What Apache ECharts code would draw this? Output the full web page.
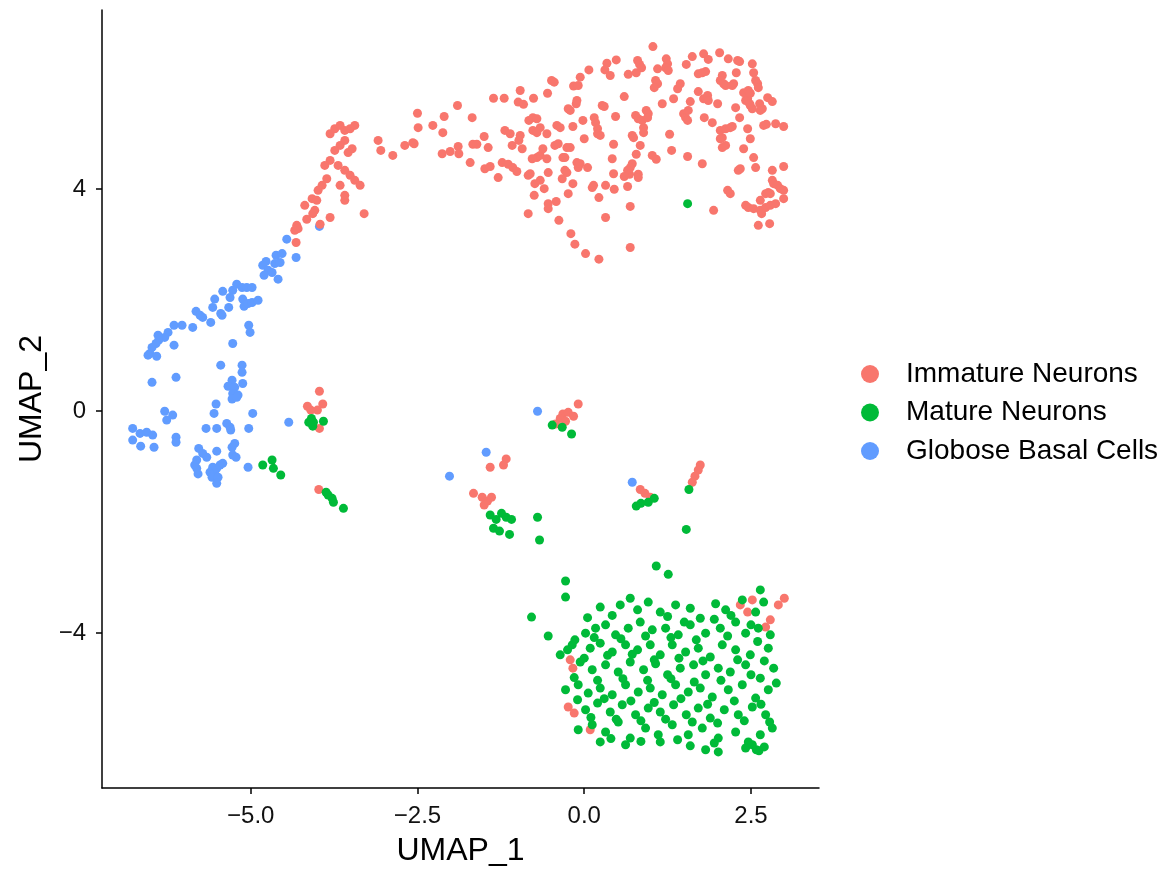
<!DOCTYPE html>
<html>
<head>
<meta charset="utf-8">
<script src="https://cdn.jsdelivr.net/npm/echarts@6/dist/echarts.min.js"></script>
<style>
  html, body { margin: 0; padding: 0; background: #fff; }
  #chart { width: 1175px; height: 871px; }
</style>
</head>
<body>
<div id="chart"></div>
<script>
// UMAP coordinates, one array per cell type
const immatureNeurons = [
  [1.03,6.57],[0.48,6.33],[0.34,6.27],[0.31,6.15],[0.39,6.05],[0.07,6.15],[-0.06,6.02],[-0.16,5.86],[-0.09,5.87],[-0.49,5.96],
  [-0.45,5.93],[-0.96,5.78],[-0.55,5.73],[-0.76,5.64],[-0.99,5.57],[-0.91,5.53],[-1.36,5.64],[-1.20,5.64],[-1.90,5.51],[-2.50,5.37],
  [-2.10,5.31],[-1.68,5.29],[-2.49,5.11],[-2.27,5.15],[-2.12,5.02],[-2.57,4.84],[-2.55,4.82],[-2.13,4.64],[-2.01,4.68],[-1.89,4.77],
  [-1.88,4.64],[-1.71,4.48],[-1.67,4.81],[-1.61,4.81],[-1.50,4.95],[-1.44,4.75],[-1.49,4.37],[-1.41,4.41],[-1.29,4.21],[-1.19,5.06],
  [-1.11,5.00],[-1.23,4.48],[-1.14,4.45],[-1.07,4.39],[-1.01,4.32],[-1.08,4.79],[-0.96,4.97],[-0.98,4.88],[-0.93,4.73],[-0.83,5.24],
  [-0.77,5.29],[-0.71,5.27],[-0.66,5.11],[-0.77,5.06],[-0.71,5.02],[-0.56,5.00],[-0.84,4.25],[-0.81,4.28],[-0.71,4.57],[-0.66,4.61],
  [-0.62,4.73],[-0.56,4.55],[-0.78,4.55],[-0.74,4.10],[-0.66,4.16],[-0.60,4.01],[-0.75,3.89],[-0.84,3.56],[-0.54,4.30],[-0.54,3.74],
  [-0.54,3.65],[-0.42,3.78],[-0.44,4.79],[-0.39,4.82],[-0.41,5.15],[-0.36,5.11],[-0.26,4.75],[-0.21,4.75],[-0.32,4.57],[-0.29,4.57],
  [-0.29,4.34],[-0.26,4.30],[-0.33,4.19],[-0.17,4.10],[-0.24,3.92],[-0.38,3.44],[-0.20,3.20],[-0.14,3.01],[0.02,2.84],[0.22,2.74],
  [-0.24,5.45],[-0.21,5.42],[-0.12,5.54],[-0.11,5.60],[-0.17,5.13],[-0.02,5.24],[0.00,4.91],[-0.11,4.48],[-0.09,4.39],[-0.06,4.46],
  [0.05,4.39],[0.15,5.29],[0.17,5.20],[0.20,5.09],[0.20,5.00],[0.24,4.97],[0.27,5.51],[0.30,5.49],[0.14,4.07],[0.12,4.03],
  [0.22,3.85],[0.32,4.07],[0.32,3.49],[0.47,5.31],[0.44,4.81],[0.42,4.55],[0.44,4.28],[0.45,4.00],[0.60,5.67],[0.66,6.07],
  [0.78,6.10],[0.80,6.32],[0.83,6.25],[0.86,6.19],[0.77,5.33],[0.81,5.27],[0.87,5.24],[0.72,4.97],[0.74,4.93],[0.84,4.79],
  [0.78,4.63],[0.72,4.46],[0.69,4.39],[0.65,4.34],[0.68,4.27],[0.81,4.27],[0.81,4.21],[0.60,4.23],[0.65,4.05],[0.69,3.69],
  [0.69,2.95],[0.89,5.11],[0.89,5.02],[0.93,5.42],[0.96,5.36],[0.95,5.29],[1.02,4.61],[1.08,4.54],[1.07,5.96],[1.10,5.90],
  [1.05,5.83],[1.10,6.17],[1.23,6.35],[1.25,6.26],[1.22,6.19],[1.26,6.14],[1.17,5.54],[1.28,4.99],[1.31,4.70],[1.34,5.63],
  [1.40,5.81],[1.44,5.90],[1.53,6.25],[1.62,6.39],[1.49,5.36],[1.52,5.29],[1.55,5.24],[1.56,5.42],[1.59,5.58],[1.55,4.59],
  [1.71,6.08],[1.77,6.10],[1.82,6.12],[1.79,6.44],[1.86,6.34],[1.71,5.76],[1.80,5.29],[1.79,5.63],[1.85,5.69],[1.86,5.60],
  [1.77,4.46],[1.94,3.62],[1.92,5.20],[2.00,5.54],[2.03,6.46],[2.07,6.05],[2.04,5.96],[2.09,5.90],[2.12,5.87],[2.16,6.35],
  [2.24,5.90],[2.22,5.87],[2.28,6.10],[2.27,5.47],[2.30,6.32],[2.33,6.30],[2.33,5.29],[2.04,5.06],[2.12,5.09],[2.19,5.11],
  [2.22,5.13],[2.07,4.93],[2.04,4.91],[2.07,4.75],[2.12,4.79],[2.42,5.60],[2.45,5.63],[2.39,5.74],[2.46,5.78],[2.49,5.73],
  [2.52,6.26],[2.54,6.10],[2.57,5.96],[2.60,5.90],[2.61,5.83],[2.49,5.51],[2.52,5.45],[2.48,5.54],[2.63,5.54],[2.67,5.45],
  [2.64,5.42],[2.45,5.09],[2.49,4.91],[2.39,4.73],[2.54,4.57],[2.57,4.39],[2.34,4.37],[2.31,4.34],[2.75,5.65],[2.82,5.58],
  [2.69,5.15],[2.73,5.17],[2.87,5.18],[2.99,5.13],[2.99,4.41],[2.82,4.34],[2.82,4.16],[2.84,4.10],[2.90,4.07],[2.94,4.01],
  [2.99,3.98],[2.76,3.94],[2.72,3.92],[2.79,3.92],[2.99,3.83],[2.64,3.80],[2.15,3.98],[2.19,3.92],[2.42,3.71],[2.46,3.67],
  [2.54,3.65],[2.64,3.62],[2.72,3.67],[2.79,3.71],[2.87,3.74],[2.66,3.56],[2.61,3.35],[2.78,3.38],
  [-3.81,5.00],[-3.74,5.09],[-3.66,5.15],[-3.59,5.06],[-3.51,5.09],[-3.44,5.15],[-3.59,4.88],[-3.66,4.79],[-3.74,4.70],[-3.54,4.66],
  [-3.48,4.73],[-3.81,4.52],[-3.89,4.43],[-3.69,4.43],[-3.59,4.34],[-3.51,4.25],[-3.44,4.16],[-3.36,4.07],[-3.86,4.19],[-3.93,4.07],
  [-3.66,4.07],[-3.99,3.98],[-4.08,3.83],[-4.19,3.71],[-4.04,3.62],[-3.59,3.89],[-3.09,4.88],[-3.05,4.70],[-2.87,4.61],[-2.69,4.79],
  [-4.01,3.80],[-3.59,3.80],[-4.07,3.56],[-4.16,3.46],[-3.81,3.49],[-3.30,3.56],[-4.31,3.35],[-4.29,3.29],[-4.34,3.26],[-3.96,3.37],
  [-4.32,3.04],
  [-3.97,0.36],[-4.15,0.09],[-3.92,0.13],[-4.00,0.02],[-4.10,0.02],[-3.97,-0.31],[-3.98,-1.41],
  [-0.32,-0.05],[-0.24,-0.02],[-0.16,-0.09],[-0.36,-0.13],[-0.09,0.13],[-0.28,-0.18],[-0.43,-0.23],
  [-1.17,-0.86],[-1.21,-0.97],[-1.41,-1.01],[-1.66,-1.48],[-1.53,-1.55],[-1.45,-1.62],[-1.50,-1.69],[-1.39,-1.55],
  [0.84,-1.41],[0.91,-1.48],[0.99,-1.55],
  [1.74,-0.97],[1.71,-1.06],[1.66,-1.17],[1.62,-1.28],
  [-0.21,-4.48],[-0.17,-4.63],[-0.24,-5.33],[-0.15,-5.44],[0.09,-5.74],[2.34,-3.49],[2.45,-3.62],[2.79,-3.76],[2.91,-3.49],[3.00,-3.37],
  [2.72,-3.89],[2.52,-3.40]
];

const matureNeurons = [
  [1.55,3.74],
  [-4.09,-0.13],[-4.06,-0.20],[-3.91,-0.18],[-4.13,-0.20],[-4.07,-0.27],
  [-4.82,-0.97],[-4.68,-0.88],[-4.66,-1.03],[-4.55,-1.15],
  [-3.87,-1.46],[-3.84,-1.51],[-3.78,-1.57],[-3.76,-1.64],[-3.61,-1.75],
  [-0.48,-0.25],[-0.33,-0.29],[-0.19,-0.41],
  [-1.41,-1.87],[-1.32,-1.95],[-1.24,-1.84],[-1.17,-1.91],[-1.36,-2.11],[-1.27,-2.16],[-1.12,-2.22],[-1.09,-1.95],[-0.70,-1.91],[-0.67,-2.32],
  [0.78,-1.71],[0.85,-1.66],[0.96,-1.64],[1.05,-1.57],
  [1.57,-1.41],[1.53,-2.13],[1.08,-2.79],[1.26,-2.94],[-0.28,-3.06],[-0.28,-3.35],[-0.79,-3.71],[-0.54,-4.05],
  [0.24,-3.53],[0.54,-3.49],[0.69,-3.37],[0.96,-3.44],[1.14,-3.62],[1.37,-3.49],[1.59,-3.55],[1.74,-3.73],[1.97,-3.47],[2.12,-3.58],
  [2.37,-3.40],[2.64,-3.22],[2.69,-3.44],[2.57,-3.62],
  [-0.14,-4.12],[0.02,-4.00],[0.17,-3.91],[0.32,-3.85],[0.47,-4.03],[0.66,-3.91],[0.84,-3.80],[1.02,-3.94],[1.22,-3.91],[1.41,-4.03],
  [1.59,-3.85],[1.82,-4.00],[2.04,-3.91],[2.27,-3.80],[2.42,-4.00],[2.61,-3.91],[2.79,-4.03],
  [-0.36,-4.39],[-0.18,-4.21],[0.09,-4.27],[0.24,-4.18],[0.42,-4.34],[0.62,-4.21],[0.80,-4.30],[0.99,-4.21],[1.14,-4.39],[1.32,-4.21],
  [1.52,-4.34],[1.71,-4.27],[1.89,-4.43],[2.07,-4.21],[2.27,-4.30],[2.49,-4.39],[2.76,-4.27],
  [-0.06,-4.52],[0.12,-4.66],[0.32,-4.57],[0.51,-4.70],[0.69,-4.52],[0.89,-4.66],[1.07,-4.55],[1.25,-4.75],[1.44,-4.63],[1.64,-4.57],
  [1.82,-4.75],[2.01,-4.63],[2.19,-4.70],[2.42,-4.57],[2.64,-4.81],[2.84,-4.63],
  [-0.28,-5.02],[-0.09,-4.93],[0.06,-5.08],[0.24,-4.99],[0.42,-5.11],[0.62,-4.93],[0.81,-5.06],[0.99,-4.99],[1.17,-5.11],[1.37,-4.93],
  [1.56,-5.06],[1.74,-4.99],[1.92,-5.15],[2.16,-5.02],[2.37,-4.93],[2.57,-5.17],[2.76,-5.02],
  [0.02,-5.38],[0.20,-5.26],[0.39,-5.42],[0.57,-5.29],[0.77,-5.47],[0.96,-5.35],[1.14,-5.42],[1.34,-5.29],[1.53,-5.47],[1.71,-5.35],
  [1.89,-5.53],[2.10,-5.38],[2.31,-5.47],[2.52,-5.33],[2.72,-5.47],
  [-0.09,-5.74],[0.12,-5.65],[0.32,-5.78],[0.51,-5.60],[0.69,-5.89],[0.92,-5.71],[1.11,-5.83],[1.32,-5.65],[1.56,-5.83],[1.77,-5.71],
  [2.01,-5.89],[2.27,-5.78],[2.46,-5.96],[2.64,-5.83],[2.82,-5.71],
  [0.24,-5.96],[0.62,-6.01],[1.14,-5.96],[1.59,-6.03],[1.82,-6.10],[2.01,-6.14],[2.42,-6.07],[2.52,-6.01],[2.58,-6.10],
  [0.05,-3.72],[0.42,-3.68],[0.80,-3.58],[1.25,-3.70],[1.50,-3.80],[1.95,-3.75],[2.20,-3.68],[2.50,-3.85],
  [-0.25,-4.30],[0.15,-4.08],[0.55,-4.10],[0.92,-4.05],[1.30,-4.08],[1.68,-4.12],[2.15,-4.05],[2.60,-4.15],
  [0.00,-4.45],[0.35,-4.40],[0.72,-4.38],[1.05,-4.48],[1.42,-4.45],[1.78,-4.50],[2.30,-4.48],[2.70,-4.50],
  [-0.15,-4.80],[0.20,-4.85],[0.58,-4.82],[0.95,-4.85],[1.30,-4.82],[1.65,-4.88],[2.05,-4.85],[2.50,-4.75],[2.88,-4.90],
  [-0.10,-5.20],[0.30,-5.18],[0.70,-5.22],[1.05,-5.25],[1.45,-5.18],[1.85,-5.28],[2.25,-5.22],[2.65,-5.28],
  [0.10,-5.52],[0.48,-5.55],[0.85,-5.58],[1.22,-5.55],[1.62,-5.60],[2.00,-5.62],[2.40,-5.58],[2.78,-5.60],
  [0.40,-5.90],[0.85,-5.95],[1.40,-5.92],[1.95,-5.98],[2.70,-6.05],[2.62,-6.12]
];

const globoseBasalCells = [
  [-3.97,3.33],[-4.46,3.10],[-4.32,2.77],[-4.62,2.81],[-4.53,2.84],[-4.64,2.66],[-4.56,2.68],[-4.77,2.70],[-4.82,2.63],[-4.74,2.54],
  [-4.68,2.50],[-4.59,2.38],[-4.80,2.45],[-5.21,2.29],[-5.13,2.23],[-5.06,2.23],[-4.98,2.23],[-5.27,2.18],[-5.31,2.05],[-5.42,2.16],
  [-5.54,2.02],[-5.57,1.87],[-5.45,1.76],[-5.43,1.73],[-5.33,1.87],[-5.12,2.02],[-5.10,1.89],[-5.04,1.94],[-4.98,1.96],[-4.89,2.00],
  [-5.82,1.80],[-5.76,1.73],[-5.72,1.69],[-5.60,1.60],[-5.87,1.51],[-6.15,1.55],[-6.03,1.55],[-6.24,1.42],[-6.29,1.33],[-6.39,1.37],
  [-6.38,1.28],[-6.42,1.22],[-6.48,1.15],[-6.51,1.04],[-6.54,1.01],[-6.41,0.99],[-6.15,1.19],[-5.03,1.55],[-5.01,1.42],[-5.27,1.22],
  [-5.45,0.83],[-5.13,0.83],[-5.13,0.70],[-6.48,0.52],[-6.12,0.61],[-5.28,0.56],[-5.34,0.45],[-5.24,0.43],[-5.12,0.50],[-5.27,0.32],
  [-5.19,0.29],[-5.28,0.22],[-5.21,0.25],[-5.52,0.13],[-5.55,-0.04],[-6.29,0.00],[-6.17,-0.07],[-6.26,-0.16],[-4.97,-0.04],[-6.77,-0.31],
  [-6.66,-0.40],[-6.56,-0.38],[-6.47,-0.43],[-6.77,-0.52],[-6.65,-0.63],[-6.45,-0.65],[-6.12,-0.47],[-6.12,-0.56],[-5.67,-0.31],[-5.51,-0.31],
  [-5.36,-0.22],[-5.31,-0.29],[-5.30,-0.34],[-5.03,-0.31],[-4.43,-0.20],[-5.78,-0.67],[-5.72,-0.76],[-5.66,-0.83],[-5.51,-0.72],[-5.24,-0.58],
  [-5.28,-0.65],[-5.27,-0.79],[-5.22,-0.83],[-5.81,-0.88],[-5.84,-0.97],[-5.81,-1.03],[-5.79,-1.13],[-5.57,-1.01],[-5.61,-1.10],[-5.54,-1.12],
  [-5.58,-1.19],[-5.51,-1.03],[-5.46,-0.97],[-5.42,-0.94],[-5.49,-1.19],[-5.51,-1.30],[-5.04,-1.01],
  [-0.70,0.00],[-2.02,-1.17],[-1.47,-0.74],[0.72,-1.28]
];

const seriesNames = ['Immature Neurons', 'Mature Neurons', 'Globose Basal Cells'];
const seriesColors = ['#F8766D', '#00BA38', '#619CFF'];
const xTicks = [-5, -2.5, 0, 2.5];
const yTicks = [-4, 0, 4];

const FONT = 'Liberation Sans, Arial, Helvetica, sans-serif';
const minus = v => (v < 0 ? '\u2212' : '');

let chart = echarts.init(document.getElementById('chart'));
chart.setOption({
  backgroundColor: '#fff',
  animation: false,
  grid: { left: 102, right: 356, top: 10, bottom: 83, containLabel: false, outerBoundsMode: 'none' },
  legend: {
    orient: 'vertical',
    left: 856,
    top: 355,
    data: seriesNames,
    icon: 'circle',
    itemWidth: 62,
    itemHeight: 18,
    itemGap: 10.5,
    selectedMode: false,
    textStyle: { fontSize: 28, lineHeight: 26, color: '#000', fontFamily: FONT, padding: 0 }
  },
  xAxis: {
    type: 'value',
    min: -7.23,
    max: 3.52,
    name: 'UMAP_1',
    nameLocation: 'middle',
    nameGap: 47,
    nameTextStyle: { fontSize: 32, color: '#000', fontFamily: FONT },
    splitLine: { show: false },
    axisLine: { onZero: false, lineStyle: { color: '#000', width: 1.5 } },
    axisTick: { customValues: xTicks, length: 6, lineStyle: { color: '#000', width: 1.5 } },
    axisLabel: {
      customValues: xTicks,
      margin: 16,
      fontSize: 24,
      color: '#111',
      fontFamily: FONT,
      formatter: v => minus(v) + Math.abs(v).toFixed(1)
    }
  },
  yAxis: {
    type: 'value',
    min: -6.79,
    max: 7.23,
    name: 'UMAP_2',
    nameLocation: 'middle',
    nameGap: 54,
    nameTextStyle: { fontSize: 32, color: '#000', fontFamily: FONT },
    splitLine: { show: false },
    axisLine: { onZero: false, lineStyle: { color: '#000', width: 1.5 } },
    axisTick: { customValues: yTicks, length: 6, lineStyle: { color: '#000', width: 1.5 } },
    axisLabel: {
      customValues: yTicks,
      margin: 16,
      fontSize: 24,
      color: '#111',
      fontFamily: FONT,
      formatter: v => minus(v) + Math.abs(v)
    }
  },
  // blue drawn first, then red, then green on top
  series: [
    { name: seriesNames[2], type: 'scatter', data: globoseBasalCells, symbolSize: 9,
      itemStyle: { color: seriesColors[2], opacity: 1 }, emphasis: { disabled: true } },
    { name: seriesNames[0], type: 'scatter', data: immatureNeurons, symbolSize: 9,
      itemStyle: { color: seriesColors[0], opacity: 1 }, emphasis: { disabled: true } },
    { name: seriesNames[1], type: 'scatter', data: matureNeurons, symbolSize: 9,
      itemStyle: { color: seriesColors[1], opacity: 1 }, emphasis: { disabled: true } }
  ]
});
</script>
</body>
</html>
